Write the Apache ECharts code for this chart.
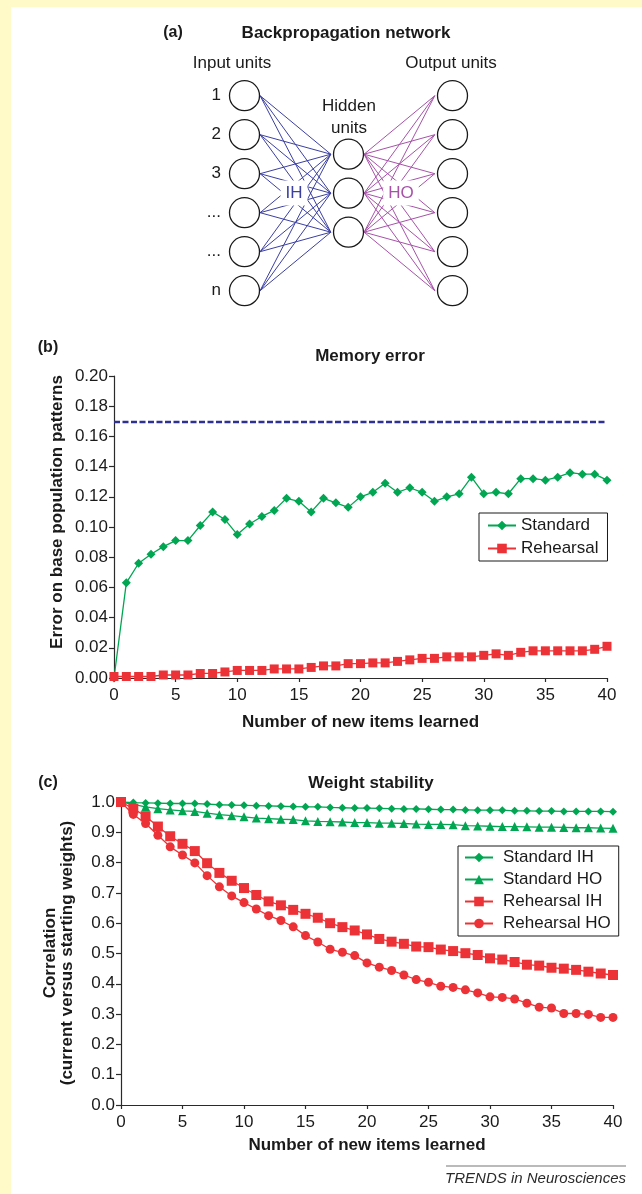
<!DOCTYPE html>
<html lang="en">
<head>
<meta charset="UTF-8">
<title>Backpropagation network: memory error and weight stability</title>
<style>
  html, body { margin: 0; padding: 0; background: #fff; }
  #chart { width: 642px; height: 1194px; }
</style>
</head>
<body>
<div id="chart"></div>
<script src="https://cdn.jsdelivr.net/npm/echarts@6/dist/echarts.min.js"></script>
<script>
// ---------- data ----------
const itemsLearned = [0, 1, 2, 3, 4, 5, 6, 7, 8, 9, 10, 11, 12, 13, 14, 15, 16, 17, 18, 19, 20,
  21, 22, 23, 24, 25, 26, 27, 28, 29, 30, 31, 32, 33, 34, 35, 36, 37, 38, 39, 40];

// (b) memory error
const memStandard = [0.000, 0.063, 0.076, 0.082, 0.087, 0.091, 0.091, 0.101, 0.110, 0.105, 0.095,
  0.102, 0.107, 0.111, 0.119, 0.117, 0.110, 0.119, 0.116, 0.113, 0.120,
  0.123, 0.129, 0.123, 0.126, 0.123, 0.117, 0.120, 0.122, 0.133, 0.122,
  0.123, 0.122, 0.132, 0.132, 0.131, 0.133, 0.136, 0.135, 0.135, 0.131];
const memRehearsal = [0.001, 0.001, 0.001, 0.001, 0.002, 0.002, 0.002, 0.003, 0.003, 0.004, 0.005,
  0.005, 0.005, 0.006, 0.006, 0.006, 0.007, 0.008, 0.008, 0.0095, 0.0095,
  0.010, 0.010, 0.011, 0.012, 0.013, 0.013, 0.014, 0.014, 0.014, 0.015,
  0.016, 0.015, 0.017, 0.018, 0.018, 0.018, 0.018, 0.018, 0.019, 0.021];
const memBaseline = 0.171;

// (c) weight stability
const stdIH = [1.000, 0.998, 0.997, 0.996, 0.995, 0.995, 0.995, 0.993, 0.991, 0.990, 0.989,
  0.988, 0.987, 0.986, 0.985, 0.984, 0.984, 0.982, 0.981, 0.980, 0.980,
  0.979, 0.978, 0.977, 0.977, 0.976, 0.975, 0.975, 0.974, 0.973, 0.973,
  0.973, 0.971, 0.971, 0.970, 0.970, 0.969, 0.969, 0.969, 0.969, 0.968];
const stdHO = [1.000, 0.992, 0.984, 0.978, 0.974, 0.971, 0.969, 0.963, 0.958, 0.955, 0.951,
  0.947, 0.945, 0.943, 0.942, 0.938, 0.936, 0.935, 0.934, 0.932, 0.932,
  0.930, 0.930, 0.929, 0.927, 0.926, 0.926, 0.925, 0.922, 0.921, 0.920,
  0.919, 0.919, 0.918, 0.917, 0.917, 0.916, 0.915, 0.915, 0.914, 0.913];
const rehIH = [1.000, 0.978, 0.953, 0.919, 0.887, 0.862, 0.838, 0.798, 0.766, 0.740, 0.716,
  0.693, 0.672, 0.659, 0.644, 0.631, 0.618, 0.600, 0.587, 0.576, 0.563,
  0.548, 0.539, 0.532, 0.523, 0.521, 0.513, 0.508, 0.501, 0.495, 0.484,
  0.480, 0.472, 0.463, 0.460, 0.453, 0.450, 0.446, 0.440, 0.434, 0.429];
const rehHO = [1.000, 0.959, 0.929, 0.890, 0.852, 0.825, 0.799, 0.757, 0.720, 0.690, 0.668,
  0.647, 0.625, 0.609, 0.588, 0.559, 0.538, 0.514, 0.504, 0.493, 0.469,
  0.455, 0.444, 0.429, 0.414, 0.405, 0.392, 0.388, 0.380, 0.370, 0.357,
  0.355, 0.350, 0.336, 0.323, 0.320, 0.302, 0.302, 0.299, 0.289, 0.289];

// (a) network units: column index and row position of each unit
const inputLabels = ['1', '2', '3', '...', '...', 'n'];
const inputRows = [0, 1, 2, 3, 4, 5];
const hiddenRows = [1.5, 2.5, 3.5];
const outputRows = [0, 1, 2, 3, 4, 5];
const inputCol = 0, hiddenCol = 1, outputCol = 2;

// ---------- style ----------
const FONT = "'Liberation Sans', Arial, Helvetica, sans-serif";
const GREEN = '#00a651';
const RED = '#ed3237';
const IH_COLOR = '#3b3fa0';
const HO_COLOR = '#a653a8';
const INK = '#1a1a1a';
const AXIS = '#2a2a2a';

const pairs = ys => itemsLearned.map((x, i) => [x, ys[i]]);

// lines end just outside the circles (in axis units)
const edgeFrom = 0.15, edgeTo = 0.17;
const ihLinks = [], hoLinks = [];
inputRows.forEach(r => hiddenRows.forEach(h => {
  ihLinks.push({ coords: [[inputCol + edgeFrom, r], [hiddenCol - edgeTo, h]] });
}));
hiddenRows.forEach(h => outputRows.forEach(r => {
  hoLinks.push({ coords: [[hiddenCol + edgeFrom, h], [outputCol - edgeTo, r]] });
}));

function txt(x, y, text, size, weight, extra) {
  return Object.assign({
    type: 'text', x: x, y: y, z: 20,
    style: {
      text: text, fill: INK, fontSize: size, fontWeight: weight || 'normal', fontFamily: FONT,
      align: 'center', verticalAlign: 'middle', textAlign: 'center', textVerticalAlign: 'middle'
    }
  }, extra || {});
}

// weight-group tag with a white halo that cuts the links
function tag(x, y, text, color) {
  const el = txt(x, y, text, 17);
  el.z = 30;
  el.style.fill = color;
  el.style.backgroundColor = '#fff';
  el.style.padding = [4, 5];
  return el;
}

function plotXAxis(grid, nameGap) {
  return {
    gridIndex: grid, type: 'value', min: 0, max: 40, interval: 5,
    axisLine: { show: true, onZero: false, lineStyle: { color: AXIS, width: 1.2 } },
    axisTick: { show: true, length: 4, lineStyle: { color: AXIS, width: 1.2 } },
    axisLabel: { fontSize: 17, color: INK, fontFamily: FONT, margin: 9 },
    splitLine: { show: false },
    name: 'Number of new items learned', nameLocation: 'middle', nameGap: nameGap,
    nameTextStyle: { fontSize: 17, fontWeight: 'bold', color: INK, fontFamily: FONT }
  };
}

function plotYAxis(grid, max, interval, digits) {
  return {
    gridIndex: grid, type: 'value', min: 0, max: max, interval: interval,
    axisLine: { show: true, onZero: false, lineStyle: { color: AXIS, width: 1.2 } },
    axisTick: { show: true, length: 5, lineStyle: { color: AXIS, width: 1.2 } },
    axisLabel: { fontSize: 17, color: INK, fontFamily: FONT, margin: 6, formatter: v => v.toFixed(digits) },
    splitLine: { show: false }
  };
}

const legendBase = {
  orient: 'vertical', borderColor: INK, borderWidth: 1, backgroundColor: '#fff',
  itemWidth: 28, itemHeight: 12,
  textStyle: { fontSize: 17, color: INK, fontFamily: FONT }
};

const unitStyle = { color: '#fff', borderColor: INK, borderWidth: 1.3, opacity: 1 };

const chart = echarts.init(document.getElementById('chart'));

const option = {
  animation: false,
  backgroundColor: '#fff',
  grid: [
    { left: 140.5, top: 56.7, width: 416, height: 273 },   // (a) network
    { left: 114, top: 376, width: 493, height: 302 },      // (b)
    { left: 121, top: 802, width: 492, height: 303 }       // (c)
  ],
  xAxis: [
    { gridIndex: 0, type: 'value', min: -1, max: 3, show: false },
    plotXAxis(1, 36),
    plotXAxis(2, 32)
  ],
  yAxis: [
    { gridIndex: 0, type: 'value', min: -1, max: 6, inverse: true, show: false },
    plotYAxis(1, 0.2, 0.02, 2),
    plotYAxis(2, 1.0, 0.1, 1)
  ],
  legend: [
    Object.assign({}, legendBase, {
      left: 479, top: 513, padding: [4, 9, 4, 8], itemGap: 6,
      data: ['Standard', 'Rehearsal']
    }),
    Object.assign({}, legendBase, {
      left: 458, top: 846, padding: [3, 8, 4, 6], itemGap: 5,
      textStyle: { fontSize: 17, color: INK, fontFamily: FONT, padding: [0, 0, 0, 5] },
      data: ['Standard IH', 'Standard HO', 'Rehearsal IH', 'Rehearsal HO']
    })
  ],
  graphic: [
    // yellow frame strips
    { type: 'rect', shape: { x: 0, y: 0, width: 11, height: 1194 }, style: { fill: '#fffac8' }, z: 1 },
    { type: 'rect', shape: { x: 0, y: 0, width: 642, height: 7 }, style: { fill: '#fffac8' }, z: 1 },
    // (a)
    txt(173, 33, '(a)', 16, 'bold'),
    txt(346, 33, 'Backpropagation network', 17, 'bold'),
    txt(232, 63, 'Input units', 17),
    txt(451, 63, 'Output units', 17),
    txt(349, 106, 'Hidden', 17),
    txt(349, 128, 'units', 17),
    tag(294, 193, 'IH', IH_COLOR),
    tag(401, 193, 'HO', HO_COLOR),
    // (b)
    txt(48, 348, '(b)', 16, 'bold'),
    txt(370, 356, 'Memory error', 17, 'bold'),
    txt(57, 512, 'Error on base population patterns', 17, 'bold', { rotation: Math.PI / 2 }),
    // (c)
    txt(48, 783, '(c)', 16, 'bold'),
    txt(371, 783, 'Weight stability', 17, 'bold'),
    txt(59, 953, 'Correlation\n(current versus starting weights)', 17, 'bold', { rotation: Math.PI / 2 }),
    // journal tag
    { type: 'line', shape: { x1: 446, y1: 1166, x2: 626, y2: 1166 }, style: { stroke: '#777', lineWidth: 1.2 }, z: 20 },
    {
      type: 'text', x: 626, y: 1179, z: 20,
      style: {
        text: 'TRENDS in Neurosciences', fill: '#2a2a2a', fontSize: 15, fontStyle: 'italic', fontFamily: FONT,
        align: 'right', verticalAlign: 'middle', textAlign: 'right', textVerticalAlign: 'middle'
      }
    }
  ],
  series: [
    // ----- (a) network -----
    {
      name: 'IH links', type: 'lines', coordinateSystem: 'cartesian2d', xAxisIndex: 0, yAxisIndex: 0,
      silent: true, z: 2,
      lineStyle: { color: IH_COLOR, width: 1, opacity: 1, curveness: 0 },
      data: ihLinks
    },
    {
      name: 'HO links', type: 'lines', coordinateSystem: 'cartesian2d', xAxisIndex: 0, yAxisIndex: 0,
      silent: true, z: 2,
      lineStyle: { color: HO_COLOR, width: 1, opacity: 1, curveness: 0 },
      data: hoLinks
    },
    {
      name: 'Input units', type: 'scatter', xAxisIndex: 0, yAxisIndex: 0, z: 3, silent: true,
      symbol: 'circle', symbolSize: 30, itemStyle: unitStyle,
      label: {
        show: true, position: 'left', distance: 8, fontSize: 17, color: INK, fontFamily: FONT,
        formatter: p => inputLabels[p.dataIndex]
      },
      data: inputRows.map(r => [inputCol, r])
    },
    {
      name: 'Hidden units', type: 'scatter', xAxisIndex: 0, yAxisIndex: 0, z: 3, silent: true,
      symbol: 'circle', symbolSize: 30, itemStyle: unitStyle,
      data: hiddenRows.map(r => [hiddenCol, r])
    },
    {
      name: 'Output units', type: 'scatter', xAxisIndex: 0, yAxisIndex: 0, z: 3, silent: true,
      symbol: 'circle', symbolSize: 30, itemStyle: unitStyle,
      data: outputRows.map(r => [outputCol, r])
    },
    // ----- (b) memory error -----
    {
      name: 'Standard', type: 'line', xAxisIndex: 1, yAxisIndex: 1, clip: false,
      symbol: 'diamond', symbolSize: 9, color: GREEN,
      lineStyle: { width: 1.3 },
      data: pairs(memStandard)
    },
    {
      name: 'Rehearsal', type: 'line', xAxisIndex: 1, yAxisIndex: 1, clip: false,
      symbol: 'rect', symbolSize: 9, color: RED,
      lineStyle: { width: 1.3 },
      markLine: {
        silent: true, symbol: ['none', 'none'], label: { show: false },
        lineStyle: { color: '#2e3192', type: [6, 2.5], width: 2.3 },
        data: [{ yAxis: memBaseline }]
      },
      data: pairs(memRehearsal)
    },
    // ----- (c) weight stability -----
    {
      name: 'Standard IH', type: 'line', xAxisIndex: 2, yAxisIndex: 2, clip: false,
      symbol: 'diamond', symbolSize: 8, color: GREEN, lineStyle: { width: 1.3 },
      data: pairs(stdIH)
    },
    {
      name: 'Standard HO', type: 'line', xAxisIndex: 2, yAxisIndex: 2, clip: false,
      symbol: 'triangle', symbolSize: 9, color: GREEN, lineStyle: { width: 1.3 },
      data: pairs(stdHO)
    },
    {
      name: 'Rehearsal IH', type: 'line', xAxisIndex: 2, yAxisIndex: 2, clip: false,
      symbol: 'rect', symbolSize: 10, color: RED, lineStyle: { width: 1.3 },
      data: pairs(rehIH)
    },
    {
      name: 'Rehearsal HO', type: 'line', xAxisIndex: 2, yAxisIndex: 2, clip: false,
      symbol: 'circle', symbolSize: 9, color: RED, lineStyle: { width: 1.3 },
      data: pairs(rehHO)
    }
  ]
};

chart.setOption(option);
</script>
</body>
</html>
